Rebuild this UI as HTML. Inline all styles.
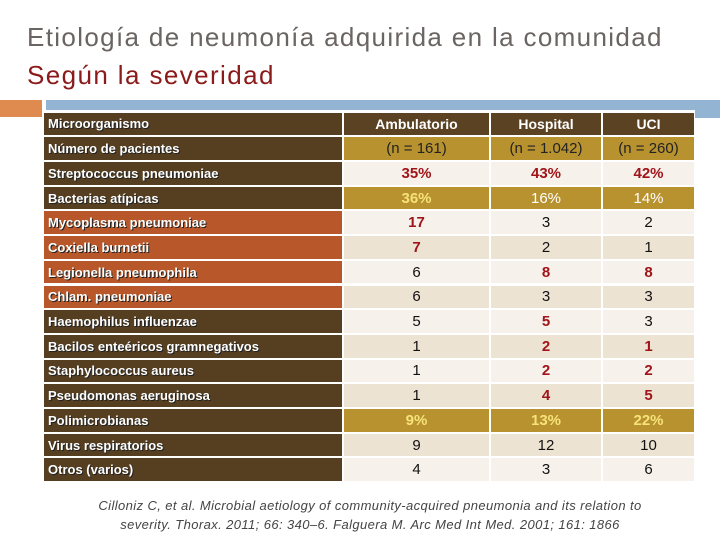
<!DOCTYPE html>
<html><head><meta charset="utf-8"><style>
body{margin:0;width:720px;height:540px;background:#fff;position:relative;overflow:hidden;font-family:"Liberation Sans",sans-serif}
.a{position:absolute}
.c{position:absolute;box-sizing:border-box;font-size:15px;display:flex;align-items:center;justify-content:center;color:#111}
.l{justify-content:flex-start;padding-left:4px;color:#fff;font-weight:bold;font-size:13px;text-shadow:1px 1px 0 #222}
</style></head><body>
<div class="a" style="left:27px;top:22px;font-size:26px;color:#6a6462;letter-spacing:1.35px;white-space:nowrap">Etiología de neumonía adquirida en la comunidad</div>
<div class="a" style="left:27px;top:60px;font-size:26px;color:#8b1a1a;letter-spacing:1.4px">Según la severidad</div>
<div class="a" style="left:0;top:100px;width:42px;height:17px;background:#df8a4e"></div>
<div class="a" style="left:46px;top:100px;width:674px;height:10px;background:#93b4d3"></div>
<div class="a" style="left:695px;top:100px;width:25px;height:18px;background:#93b4d3"></div>
<div id="tbl"></div>
<div class="a" style="left:85px;top:496px;width:570px;text-align:center;font-size:13px;font-style:italic;color:#444;line-height:19px;letter-spacing:0.4px">Cilloniz C, et al. Microbial aetiology of community-acquired pneumonia and its relation to severity. Thorax. 2011; 66: 340–6. Falguera M. Arc Med Int Med. 2001; 161: 1866</div>
<script>
const labels=["Microorganismo","Número de pacientes","Streptococcus pneumoniae","Bacterias atípicas","Mycoplasma pneumoniae","Coxiella burnetii","Legionella pneumophila","Chlam. pneumoniae","Haemophilus influenzae","Bacilos enteéricos gramnegativos","Staphylococcus aureus","Pseudomonas aeruginosa","Polimicrobianas","Virus respiratorios","Otros (varios)"];
const amb=["Ambulatorio","(n = 161)","35%","36%","17","7","6","6","5","1","1","1","9%","9","4"];
const hosp=["Hospital","(n = 1.042)","43%","16%","3","2","8","3","5","2","2","4","13%","12","3"];
const uci=["UCI","(n = 260)","42%","14%","2","1","8","3","3","1","2","5","22%","10","6"];
const rowType=["H","N","L1","G","L1","L2","L1","L2","L1","L2","L1","L2","G","L2","L1"];
const labelColor=["d","d","d","d","o","o","o","o","d","d","d","d","d","d","d"];
const emph=[["w","w","w"],["n","n","n"],["r","r","r"],["y","w","w"],["r","",""],["r","",""],["","r","r"],["","",""],["","r",""],["","r","r"],["","r","r"],["","r","r"],["y","y","y"],["","",""],["","",""]];
const cols=[[344,145],[491,110],[603,91]];
const tbl=document.getElementById('tbl');
const bg={H:"#5a4222",N:"#b8922e",G:"#b8922e",L1:"#f6f1ea",L2:"#ede3d3"};
for(let i=0;i<labels.length;i++){
  const y=112.6+i*24.7,h=22.7;
  const d=document.createElement('div');
  d.className='c l';
  
  
  d.style.cssText=`left:44px;top:${y}px;width:298px;height:${h}px;background:${labelColor[i]=='o'?'#b8582a':'#553f20'}`;
  d.textContent=labels[i];tbl.appendChild(d);
  const vals=[amb[i],hosp[i],uci[i]];
  for(let j=0;j<3;j++){
    const c=document.createElement('div');
    c.className='c';
    
    
    let st=`left:${cols[j][0]}px;top:${y}px;width:${cols[j][1]}px;height:${h}px;background:${bg[rowType[i]]};`;
    const e=emph[i][j];
    if(e=='r')st+='color:#a0141a;font-weight:bold;';
    else if(e=='y')st+='color:#f6e27c;font-weight:bold;';
    else if(e=='w')st+='color:#fff;'+(i==0?'font-weight:bold;font-size:14px;':'');
    else if(e=='n')st+='color:#222;';
    c.style.cssText=st;c.textContent=vals[j];tbl.appendChild(c);
  }
}
</script>
</body></html>
